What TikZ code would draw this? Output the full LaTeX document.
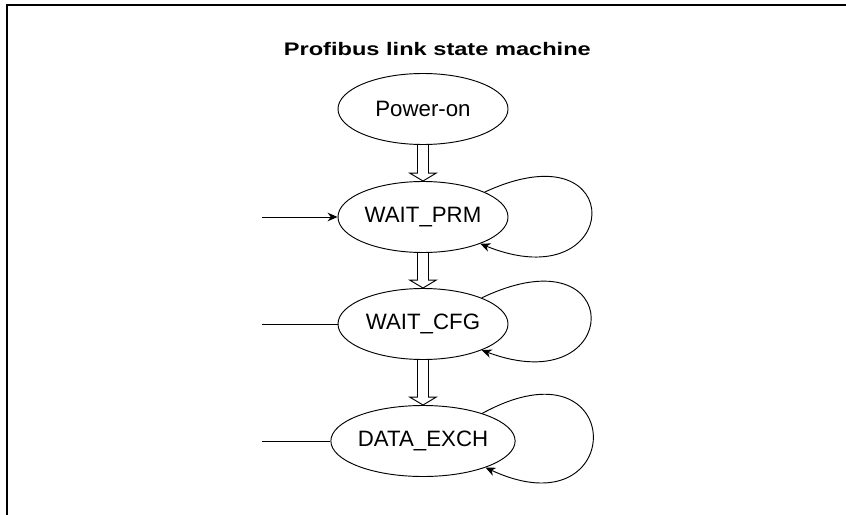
\documentclass[tikz,border=0pt]{standalone}
\usepackage{fontspec}
\setmainfont{Liberation Sans}
\newfontfamily\titlefont[FakeStretch=1.3]{Liberation Sans Bold}
\usetikzlibrary{arrows.meta, positioning, shapes.geometric, calc}

\begin{document}
\begin{tikzpicture}[
    line width=0.8pt,
    >={Stealth[length=0.3cm,width=0.26cm]},
    state/.style={draw, ellipse, minimum width=5.1cm, minimum height=2.13cm,
                  inner sep=0pt, font=\fontsize{19}{23}\selectfont},
    hollow/.style={to path={let \p1=(\tikztostart), \p2=(\tikztotarget) in
        (\x1-0.165cm,\y1) -- (\x1-0.165cm,\y2+0.24cm) -- (\x1-0.4cm,\y2+0.24cm)
        -- (\x1,\y2) -- (\x1+0.4cm,\y2+0.24cm) -- (\x1+0.165cm,\y2+0.24cm)
        -- (\x1+0.165cm,\y1)}}
]
    \useasboundingbox (0,0) rectangle (25.38,-15.45);
    \draw[line width=0.06cm] (0.195,-15.45) -- (0.195,-0.15) -- (25.38,-0.15);

    \node[anchor=base, font=\titlefont\fontsize{15.5}{18}\selectfont] (title)
        at (13.12,-1.68) {Profibus link state machine};

    \node[state] (pwr)  at (12.69,-3.27)  {Power-on};
    \node[state] (prm)  at (12.69,-6.51)  {WAIT\_PRM};
    \node[state] (cfg)  at (12.69,-9.72)  {WAIT\_CFG};
    \node[state] (exch) at (12.69,-13.23) {DATA\_EXCH};

    % transitions down the chain
    \draw (pwr.south) to[hollow] (prm.north);
    \draw (prm.south) to[hollow] (cfg.north);
    \draw (cfg.south) to[hollow] (exch.north);

    % lines coming in from the left
    \coordinate (inprm)  at (7.86,-6.51);
    \coordinate (incfg)  at (7.86,-9.72);
    \coordinate (inexch) at (7.86,-13.23);
    \draw[->] (inprm) -- (prm.west);
    \draw (incfg) -- (cfg.west);
    \draw (inexch) -- (exch.west);

    % self loops
    \draw[->] (prm.22) .. controls +(4.41,2.04) and +(4.29,-1.74) .. (prm.-25);
    \draw[->] (cfg.24) .. controls +(4.41,2.1) and +(4.29,-1.6) .. (cfg.-24);
    \draw[->] (exch.25) .. controls +(4.4,2.4) and +(4.3,-2.0) .. (exch.-23);
\end{tikzpicture}
\end{document}
